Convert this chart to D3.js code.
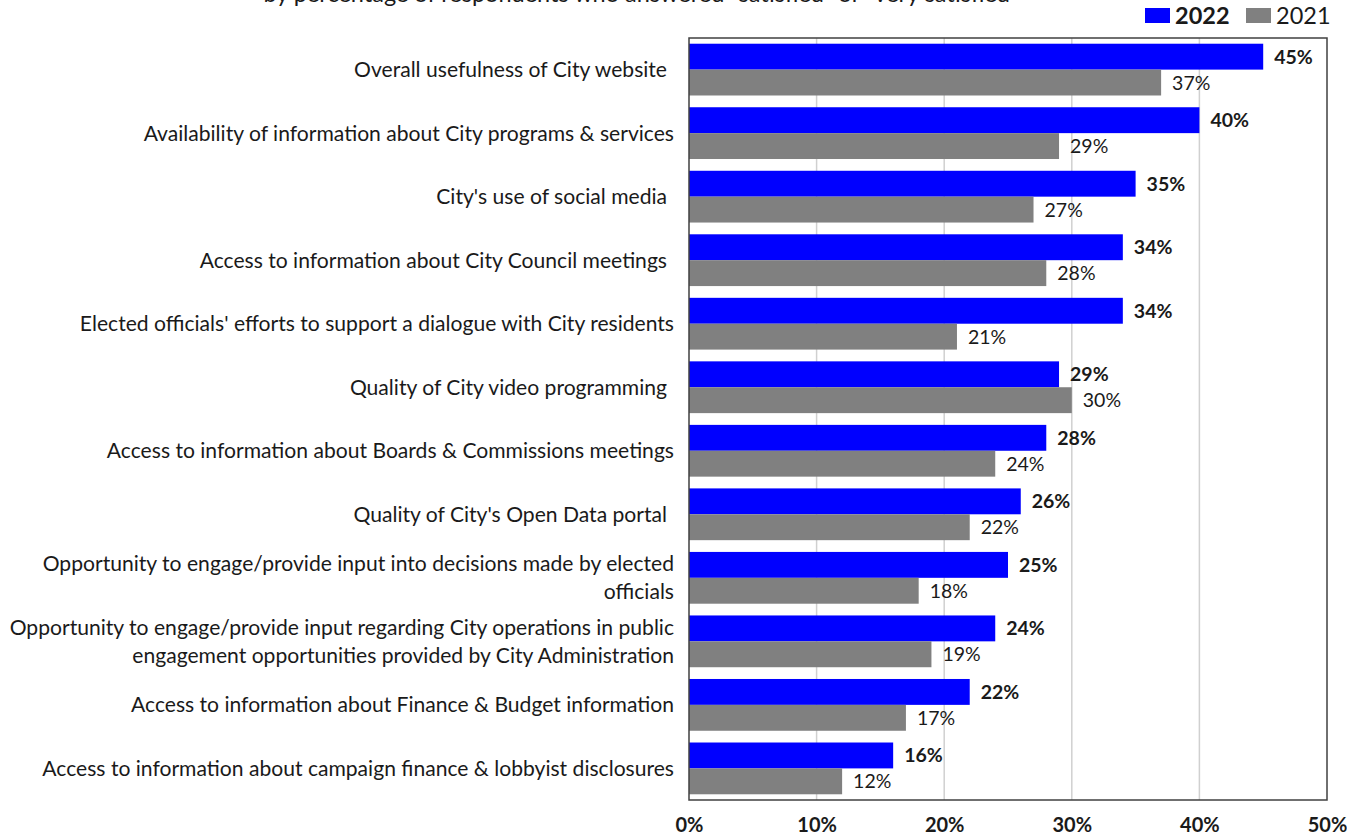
<!DOCTYPE html>
<html>
<head>
<meta charset="utf-8">
<script src="https://cdn.jsdelivr.net/npm/d3@7"></script>
<style>
  html, body { margin: 0; padding: 0; background: #fff; }
  svg { display: block; }
  text { font-family: Lato, "Open Sans", sans-serif; fill: #1a1a1a; }
</style>
</head>
<body>
<svg id="chart" width="1347" height="835"></svg>
<script>
// Satisfaction items (top to bottom); "\n" marks a manual line break
const categories = [
  "Overall usefulness of City website",
  "Availability of information about City programs & services",
  "City's use of social media",
  "Access to information about City Council meetings",
  "Elected officials' efforts to support a dialogue with City residents",
  "Quality of City video programming",
  "Access to information about Boards & Commissions meetings",
  "Quality of City's Open Data portal",
  "Opportunity to engage/provide input into decisions made by elected\nofficials",
  "Opportunity to engage/provide input regarding City operations in public\nengagement opportunities provided by City Administration",
  "Access to information about Finance & Budget information",
  "Access to information about campaign finance & lobbyist disclosures"
];
// Labels whose source text carries a trailing space (drawn slightly further left)
const trailingSpace = [true, false, true, true, false, true, false, true, false, false, false, false];
const values2022 = [45, 40, 35, 34, 34, 29, 28, 26, 25, 24, 22, 16];
const values2021 = [37, 29, 27, 28, 21, 30, 24, 22, 18, 19, 17, 12];
const seriesNames = ["2022", "2021"];
const xTicks = [0, 10, 20, 30, 40, 50];
const subtitle = "by percentage of respondents who answered \u201csatisfied\u201d or \u201cvery satisfied\u201d";

const colors = { "2022": "#0000ff", "2021": "#808080" };

const svg = d3.select("#chart");
const plot = { left: 689, right: 1327, top: 38, bottom: 800 };

const x = d3.scaleLinear().domain([0, 50]).range([plot.left, plot.right]);
const y = d3.scaleBand().domain(d3.range(categories.length))
  .range([plot.top, plot.bottom]).paddingInner(0.185).paddingOuter(0.09);
const sub = d3.scaleBand().domain(seriesNames).range([0, y.bandwidth()]);

// subtitle (mostly above the visible area)
svg.append("text").attr("x", 641).attr("y", 2).attr("text-anchor", "middle")
  .style("font-size", "23.5px").text(subtitle);

// gridlines
svg.append("g").selectAll("line").data(xTicks.slice(1, -1)).join("line")
  .attr("x1", d => x(d)).attr("x2", d => x(d))
  .attr("y1", plot.top).attr("y2", plot.bottom)
  .attr("stroke", "#d0d0d0").attr("stroke-width", 1.5);

const rows = categories.map((c, i) => ({ i, c, v: { "2022": values2022[i], "2021": values2021[i] } }));

// bars
const barG = svg.append("g");
seriesNames.forEach(s => {
  barG.selectAll(null).data(rows).join("rect")
    .attr("x", x(0))
    .attr("y", d => y(d.i) + sub(s))
    .attr("width", d => x(d.v[s]) - x(0))
    .attr("height", sub.bandwidth())
    .attr("fill", colors[s]);
  // value labels
  barG.selectAll(null).data(rows).join("text")
    .attr("x", d => x(d.v[s]) + 11)
    .attr("y", d => y(d.i) + sub(s) + sub.bandwidth() / 2)
    .attr("dy", "0.36em")
    .style("font-size", "19.5px")
    .style("font-weight", s === "2022" ? "bold" : "normal")
    .text(d => d.v[s] + "%");
});

// plot frame
svg.append("rect").attr("x", plot.left).attr("y", plot.top)
  .attr("width", plot.right - plot.left).attr("height", plot.bottom - plot.top)
  .attr("fill", "none").attr("stroke", "#404040").attr("stroke-width", 1.5);

// category labels
const catG = svg.append("g");
rows.forEach(d => {
  const lines = d.c.split("\n");
  const cy = y(d.i) + y.bandwidth() / 2;
  const lh = 28;
  const t = catG.append("text").attr("text-anchor", "end").style("font-size", "21.1px");
  lines.forEach((ln, k) => {
    t.append("tspan").attr("x", trailingSpace[d.i] ? 667 : 674)
      .attr("y", cy + (k - (lines.length - 1) / 2) * lh)
      .attr("dy", "0.36em").text(ln);
  });
});

// x axis tick labels
const xAxis = d3.axisBottom(x).tickValues(xTicks).tickFormat(d => d + "%").tickSize(0).tickPadding(0);
const ax = svg.append("g").attr("transform", `translate(0, ${plot.bottom + 18})`).call(xAxis);
ax.select(".domain").remove();
ax.selectAll("text").style("font-size", "20px").style("font-weight", "bold")
  .style("font-family", "Lato, 'Open Sans', sans-serif").attr("fill", "#1a1a1a");

// legend
const legend = svg.append("g");
const legendItems = [{ s: "2022", x: 1145, bold: true }, { s: "2021", x: 1246, bold: false }];
legendItems.forEach(it => {
  legend.append("rect").attr("x", it.x).attr("y", 8).attr("width", 25).attr("height", 15)
    .attr("fill", colors[it.s]);
  legend.append("text").attr("x", it.x + 30).attr("y", 16).attr("dy", "0.36em")
    .style("font-size", "23.5px").style("font-weight", it.bold ? "bold" : "normal").text(it.s);
});
</script>
</body>
</html>
